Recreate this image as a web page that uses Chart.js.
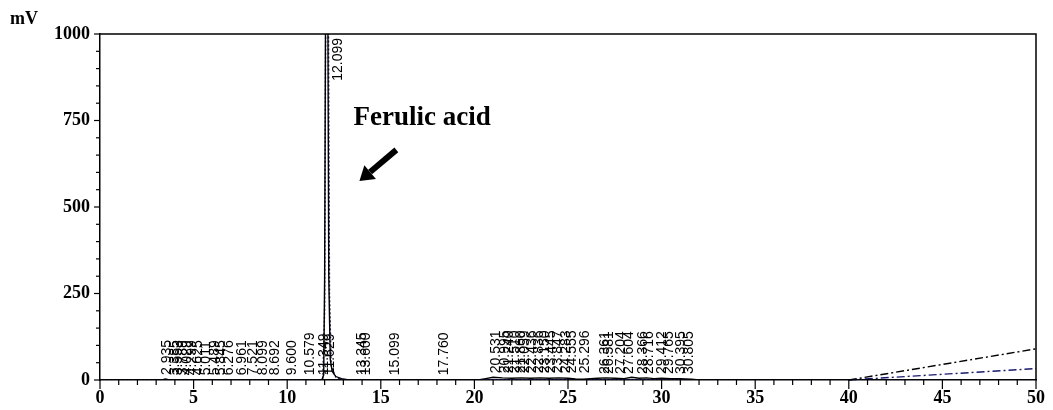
<!DOCTYPE html>
<html>
<head>
<meta charset="utf-8">
<script src="https://cdn.jsdelivr.net/npm/chart.js@4/dist/chart.umd.min.js"></script>
<style>
  html, body { margin: 0; padding: 0; background: #fff; }
  #wrap { width: 1053px; height: 410px; }
</style>
</head>
<body>
<div id="wrap"><canvas id="chrom"></canvas></div>
<script>
// chromatogram trace (solid black), time in min, signal in mV
const traceTime = [0, 3.3, 3.5, 3.7, 11.85, 11.95, 12.0, 12.05, 12.1, 12.17, 12.22, 12.3, 12.4, 12.6, 12.9, 13.3,
  20.2, 20.6, 21.0, 21.5, 22.0, 22.5, 23.0, 23.5, 24.0, 24.5, 25.0, 25.4, 25.8, 26.2, 26.6, 27.0, 27.5,
  28.0, 28.4, 28.8, 29.2, 29.6, 30.0, 30.5, 31.0, 31.6, 32.0, 40, 50];
const traceMv = [0, 0, 3, 0, 0, 15, 300, 1100, 1400, 1100, 300, 60, 25, 10, 4, 0,
  0, 4, 8, 6, 5, 6, 5, 6, 5, 6, 5, 3, 2, 4, 5, 6, 5,
  4, 8, 5, 6, 4, 5, 4, 4, 2, 0, 0, 0];

// second channel (dotted navy)
const dotTime = [0, 11.9, 12.0, 12.06, 12.12, 12.2, 12.26, 12.35, 12.6, 13.0, 50];
const dotMv = [0, 0, 200, 1100, 1400, 1100, 250, 40, 8, 0, 0];

// dash-dot drift lines at the end of the run
const driftTime = [40, 50, 50.8];
const driftBlack = [0, 90, 97];
const driftNavy = [0, 33, 35];

// peak labels
const peakTimes = [2.935, 3.385, 3.553, 3.789, 4.029, 4.299, 4.625, 5.011, 5.489, 5.845, 6.276, 6.961, 7.521, 8.099, 8.692, 9.600,
  10.579, 11.349, 11.629, 12.099, 13.345, 13.600, 15.099, 17.760,
  20.531, 20.995, 21.240, 21.510, 21.860, 22.059, 22.436, 22.836, 23.150, 23.445, 23.847, 24.283, 24.555, 25.296,
  26.361, 26.581, 27.204, 27.604, 28.366, 28.716, 29.412, 29.765, 30.395, 30.805];
const peakHeights = [3, 2, 2, 2, 2, 2, 2, 2, 2, 2, 2, 2, 2, 2, 2, 2,
  2, 2, 2, 1500, 2, 2, 2, 2,
  8, 8, 8, 8, 8, 8, 8, 8, 8, 8, 8, 8, 8, 8,
  6, 6, 6, 6, 6, 6, 6, 6, 6, 6];

const yTicks = [0, 250, 500, 750, 1000];
const xTicks = [0, 5, 10, 15, 20, 25, 30, 35, 40, 45, 50];

function pts(xs, ys) { return xs.map((x, i) => ({ x: x, y: ys[i] })); }

const decor = {
  id: 'decor',
  afterDraw(chart) {
    const ctx = chart.ctx, a = chart.chartArea;
    const xs = chart.scales.x, ys = chart.scales.y;
    ctx.save();
    // frame top and right
    ctx.strokeStyle = '#000';
    ctx.lineWidth = 1.5;
    ctx.beginPath();
    ctx.moveTo(a.left, a.top); ctx.lineTo(a.right, a.top); ctx.lineTo(a.right, a.bottom);
    ctx.stroke();
    // ticks
    ctx.lineWidth = 1.2;
    for (let v = 0; v <= 50; v++) {
      const px = xs.getPixelForValue(v);
      const len = v % 5 === 0 ? 9 : 5;
      ctx.beginPath(); ctx.moveTo(px, a.bottom); ctx.lineTo(px, a.bottom + len); ctx.stroke();
    }
    for (let v = 0; v <= 1000; v += 50) {
      const py = ys.getPixelForValue(v);
      const len = v % 250 === 0 ? 6 : 4;
      ctx.beginPath(); ctx.moveTo(a.left, py); ctx.lineTo(a.left - len, py); ctx.stroke();
    }
    // unit
    ctx.fillStyle = '#000';
    ctx.font = 'bold 18px "Liberation Serif", serif';
    ctx.textAlign = 'left';
    ctx.textBaseline = 'alphabetic';
    ctx.fillText('mV', 10, 24);
    // peak labels
    ctx.font = '14px "Liberation Sans", Arial, sans-serif';
    peakTimes.forEach((t, i) => {
      const px = xs.getPixelForValue(t) + 5;
      ctx.save();
      if (peakHeights[i] >= ys.max) {
        ctx.translate(px, a.top + 4);
        ctx.rotate(-Math.PI / 2);
        ctx.textAlign = 'right';
      } else {
        ctx.translate(px, ys.getPixelForValue(peakHeights[i]) - 4);
        ctx.rotate(-Math.PI / 2);
        ctx.textAlign = 'left';
      }
      ctx.textBaseline = 'top';
      ctx.fillText(t.toFixed(3), 0, 0);
      ctx.restore();
    });
    // annotation
    ctx.font = 'bold 27px "Liberation Serif", serif';
    ctx.textAlign = 'left';
    ctx.textBaseline = 'alphabetic';
    ctx.fillText('Ferulic acid', xs.getPixelForValue(13.54), ys.getPixelForValue(737));
    const x0 = xs.getPixelForValue(15.83), y0 = ys.getPixelForValue(665);
    const x1 = xs.getPixelForValue(13.86), y1 = ys.getPixelForValue(575);
    const ang = Math.atan2(y1 - y0, x1 - x0);
    const hl = 14, hw = 9;
    const bx = x1 - hl * Math.cos(ang), by = y1 - hl * Math.sin(ang);
    ctx.strokeStyle = '#000';
    ctx.lineWidth = 6;
    ctx.beginPath(); ctx.moveTo(x0, y0); ctx.lineTo(bx, by); ctx.stroke();
    ctx.beginPath();
    ctx.moveTo(x1, y1);
    ctx.lineTo(bx + hw * Math.sin(ang), by - hw * Math.cos(ang));
    ctx.lineTo(bx - hw * Math.sin(ang), by + hw * Math.cos(ang));
    ctx.closePath();
    ctx.fill();
    ctx.restore();
  }
};

new Chart(document.getElementById('chrom'), {
  type: 'scatter',
  data: {
    datasets: [
      {
        data: pts(traceTime, traceMv),
        showLine: true, borderColor: '#000', borderWidth: 1.4, pointRadius: 0, tension: 0
      },
      {
        data: pts(dotTime, dotMv),
        showLine: true, borderColor: '#1a1a6e', borderWidth: 1.4, borderDash: [2, 2], pointRadius: 0, tension: 0
      },
      {
        data: pts(driftTime, driftBlack), clip: false,
        showLine: true, borderColor: '#000', borderWidth: 1.4, borderDash: [8, 3, 2, 3], pointRadius: 0
      },
      {
        data: pts(driftTime, driftNavy), clip: false,
        showLine: true, borderColor: '#1a1a6e', borderWidth: 1.4, borderDash: [8, 3, 2, 3], pointRadius: 0
      }
    ]
  },
  options: {
    responsive: true,
    maintainAspectRatio: false,
    animation: false,
    layout: { padding: { top: 34, right: 15, left: 0, bottom: 0 } },
    plugins: { legend: { display: false }, tooltip: { enabled: false } },
    scales: {
      x: {
        type: 'linear', min: 0, max: 50,
        afterFit(s) { s.height = 30; },
        afterBuildTicks(s) { s.ticks = xTicks.map(v => ({ value: v })); },
        grid: { display: false, drawTicks: false },
        border: { display: true, color: '#000', width: 1.5 },
        ticks: { padding: 8, color: '#000', font: { family: '"Liberation Serif", serif', size: 18, weight: 'bold' },
          maxRotation: 0, autoSkip: false, callback: v => String(v) }
      },
      y: {
        min: 0, max: 1000,
        afterFit(s) { s.width = 100; },
        afterBuildTicks(s) { s.ticks = yTicks.map(v => ({ value: v })); },
        grid: { display: false, drawTicks: false },
        border: { display: true, color: '#000', width: 1.5 },
        ticks: { padding: 10, color: '#000', font: { family: '"Liberation Serif", serif', size: 18, weight: 'bold' },
          callback: v => String(v) }
      }
    }
  },
  plugins: [decor]
});
</script>
</body>
</html>
